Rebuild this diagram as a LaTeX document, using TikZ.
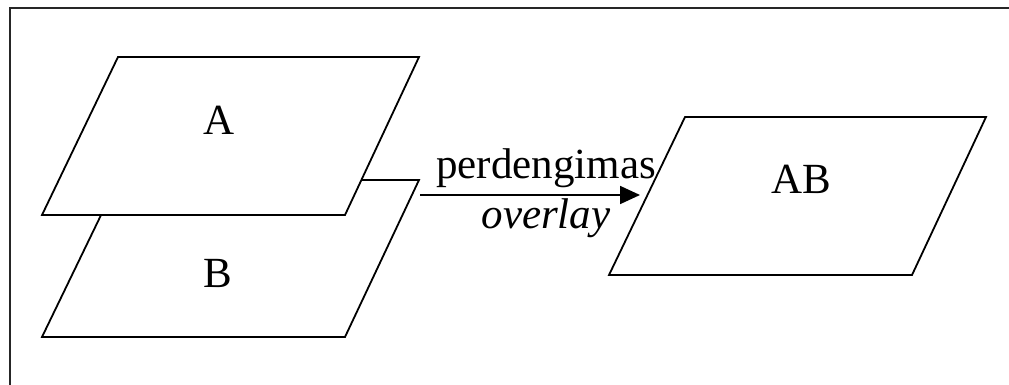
\documentclass[tikz,border=0pt]{standalone}
\usepackage{fontspec}
\setmainfont{Liberation Serif}
\usetikzlibrary{arrows.meta}
\begin{document}
\begin{tikzpicture}[x=1pt,y=-1pt,
  plane/.style={draw=black, line width=1.8pt, fill=white, line join=miter},
  lbl/.style={inner sep=0pt, anchor=base, font=\fontsize{43}{50}\selectfont},
  frameline/.style={draw=black!85, line width=2pt},
  flow/.style={draw=black, line width=1.8pt, -{Triangle[length=20pt,width=18pt]}}]
  \useasboundingbox (0,0) rectangle (1009,385);
  % outer frame (top and left edges)
  \draw[frameline] (10,390) -- (10,8.5) -- (1015,8.5);
  % lower layer B, then upper layer A over it
  \draw[plane] (118,180) -- (419,180) -- (345,337) -- (42,337) -- cycle;
  \draw[plane] (118,57) -- (419,57) -- (345,215) -- (42,215) -- cycle;
  % result layer AB
  \draw[plane] (685,117) -- (986,117) -- (912,275) -- (609,275) -- cycle;
  % labels
  \node[lbl] (A) at (219,135) {A};
  \node[lbl] (B) at (218,287) {B};
  \node[lbl] (AB) at (801,193) {AB};
  \node[lbl] (op) at (546,178) {perdengimas};
  \node[lbl, font=\fontsize{43}{50}\selectfont\itshape] (en) at (546,228) {overlay};
  % overlay operation arrow
  \coordinate (src) at (420,195);
  \coordinate (dst) at (640,195);
  \draw[flow] (src) -- (dst);
\end{tikzpicture}
\end{document}
